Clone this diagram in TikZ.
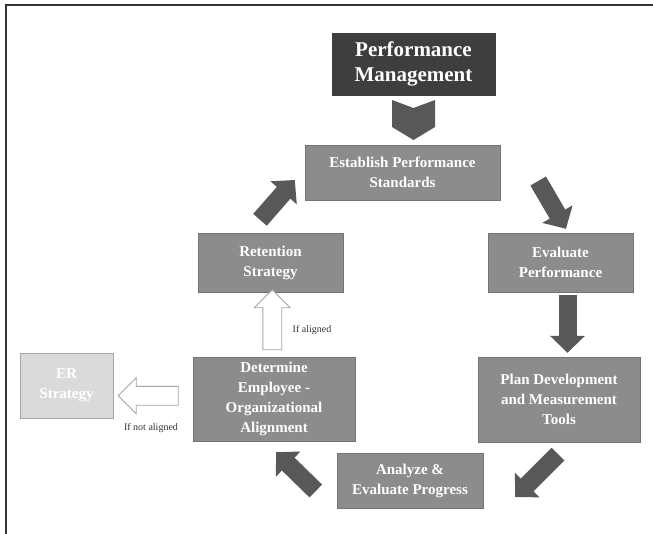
\documentclass[tikz,border=0pt]{standalone}
\usepackage{fontspec}
\setmainfont{Liberation Serif}
\usetikzlibrary{arrows.meta,shapes.arrows,calc}
\definecolor{boxgray}{RGB}{140,140,140}
\definecolor{boxline}{RGB}{115,115,115}
\definecolor{topgray}{RGB}{62,62,62}
\definecolor{arrowgray}{RGB}{88,88,88}
\definecolor{ergray}{RGB}{218,218,218}
\definecolor{erline}{RGB}{165,165,165}
\begin{document}
\begin{tikzpicture}[x=1pt,y=-1pt,
  stepbox/.style={draw=boxline,fill=boxgray,text=white,align=center,
    font=\fontsize{15}{20}\selectfont\bfseries,inner sep=2pt},
  fatarrow/.style={draw=arrowgray,line width=18pt,
    -{Triangle[width=34pt,length=17pt,fill=arrowgray]}},
  openarrow/.style={single arrow,draw=erline,fill=white,line width=0.8pt,
    minimum height=60pt,minimum width=35pt,single arrow head extend=8.5pt,
    inner sep=9pt},
  iflabel/.style={font=\fontsize{10}{12}\selectfont,text=black!80}]
\useasboundingbox (0,0) rectangle (653,534);
\draw[line width=1.2pt,black!80] (6,534) -- (6,5) -- (653,5);
% boxes
\node[draw=topgray,fill=topgray,text=white,align=center,
  font=\fontsize{21}{25}\selectfont\bfseries,minimum width=163pt,minimum height=62pt]
  (perf) at (413.5,64) {Performance\\Management};
\node[stepbox,minimum width=195pt,minimum height=55pt] (est) at (402.5,172.5) {Establish Performance\\Standards};
\node[stepbox,minimum width=145pt,minimum height=59pt] (eval) at (560.5,262.5) {Evaluate\\Performance};
\node[stepbox,minimum width=162pt,minimum height=85pt] (plan) at (559,399.5) {Plan Development\\and Measurement\\Tools};
\node[stepbox,minimum width=146pt,minimum height=55pt] (anlz) at (410,480.5) {Analyze \&\\Evaluate Progress};
\node[stepbox,minimum width=162pt,minimum height=84pt] (det) at (274,399) {Determine\\Employee -\\Organizational\\Alignment};
\node[stepbox,minimum width=145pt,minimum height=59pt] (ret) at (270.5,262.5) {Retention\\Strategy};
\node[stepbox,draw=erline,fill=ergray,minimum width=93pt,minimum height=65pt] (er) at (66.5,385.5) {ER\\Strategy};
% chevron under the title
\fill[arrowgray] (392,100) -- (413.5,108) -- (435,100) -- (435,127) -- (413.5,140) -- (392,127) -- cycle;
% cycle arrows
\draw[fatarrow] ([xshift=38pt,yshift=-8.5pt]est.east) -- ([xshift=5.5pt,yshift=4pt]eval.north);
\draw[fatarrow] ([xshift=7pt,yshift=-3pt]eval.south) -- ([xshift=8.5pt,yshift=4pt]plan.north);
\draw[fatarrow] ([xshift=-1pt,yshift=-12pt]plan.south) -- ([xshift=32pt,yshift=-16.5pt]anlz.east);
\draw[fatarrow] ([xshift=-21pt,yshift=-10.5pt]anlz.west) -- ([xshift=2pt,yshift=-11pt]det.south);
\draw[fatarrow] ([xshift=-10.5pt,yshift=13pt]ret.north) -- ([xshift=-10pt,yshift=-7.5pt]est.west);
% alignment outcomes
\node[openarrow,shape border rotate=90] (upa) at ($(det.north)!0.5!(ret.south)$) {};
\node[openarrow,shape border rotate=180] (lefta) at ([yshift=-3.5pt]$(er.east)!0.5!(det.west)$) {};
\node[iflabel] (ifal) at (312,330) {If aligned};
\node[iflabel] (ifnot) at (151,428) {If not aligned};
\end{tikzpicture}
\end{document}
